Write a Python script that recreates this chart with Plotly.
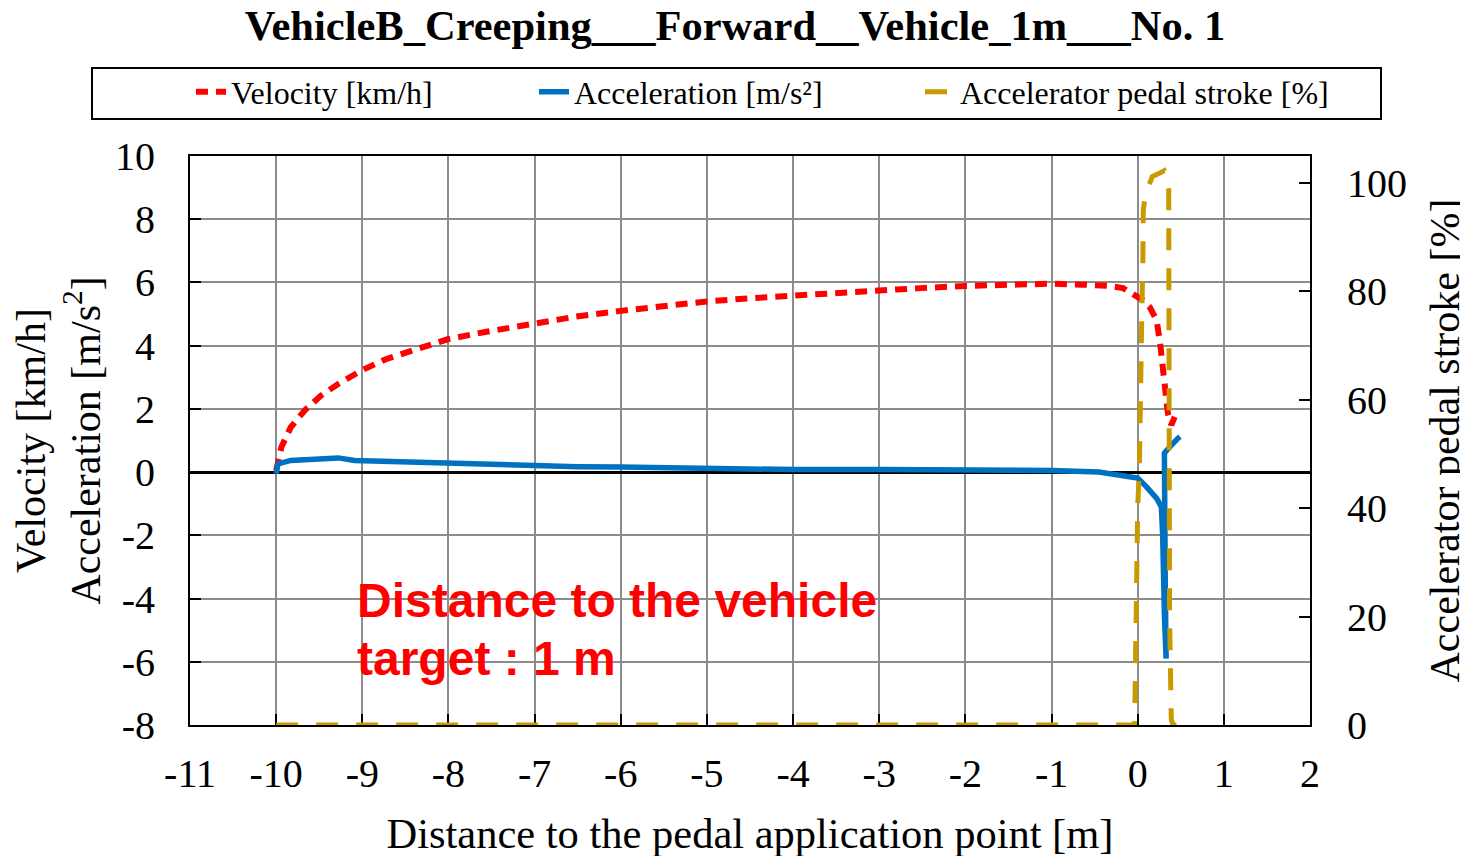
import plotly.graph_objects as go

title_text = "VehicleB_Creeping___Forward__Vehicle_1m___No. 1"

# Velocity [km/h]
vel_x = [-10.0, -9.94, -9.83, -9.67, -9.48, -9.28, -9.0, -8.72, -8.37, -8.0, -7.56, -7.0,
         -6.52, -6.0, -5.44, -5.0, -4.5, -4.0, -3.54, -3.0, -2.53, -2.0, -1.49, -1.0,
         -0.64, -0.33, -0.17, -0.06, 0.06, 0.14, 0.22, 0.26, 0.29, 0.31, 0.35, 0.39, 0.43]
vel_y = [0.05, 0.79, 1.42, 1.95, 2.42, 2.79, 3.23, 3.58, 3.89, 4.21, 4.44, 4.72,
         4.92, 5.1, 5.28, 5.4, 5.5, 5.59, 5.66, 5.75, 5.82, 5.89, 5.93, 5.96,
         5.93, 5.89, 5.82, 5.64, 5.44, 5.22, 4.8, 4.08, 3.33, 2.6, 1.87, 1.49, 1.75]

# Acceleration [m/s2]
acc_x = [-10.0, -9.98, -9.83, -9.67, -9.4, -9.28, -9.09, -8.7, -8.37, -8.0, -7.56, -7.0,
         -6.5, -6.0, -5.0, -4.0, -3.0, -2.0, -1.0, -0.45, -0.2, 0.0, 0.1, 0.22, 0.275,
         0.29, 0.31, 0.325, 0.33, 0.32, 0.305, 0.31, 0.34, 0.37, 0.42, 0.46, 0.49]
acc_y = [-0.05, 0.26, 0.37, 0.40, 0.47, 0.45, 0.37, 0.34, 0.29, 0.26, 0.21, 0.18,
         0.17, 0.16, 0.11, 0.08, 0.08, 0.07, 0.05, 0.0, -0.1, -0.19, -0.46, -0.83, -1.1,
         -2.0, -4.5, -5.8, -5.9, -3.5, 0.3, 0.6, 0.7, 0.8, 0.95, 1.05, 1.12]

# Accelerator pedal stroke [%]
ped_x = [-10.0, -0.04, -0.035, -0.03, -0.02, -0.015, 0.0, 0.02, 0.03, 0.04, 0.05, 0.06,
         0.065, 0.09, 0.115, 0.17, 0.25, 0.31, 0.35, 0.36, 0.365, 0.37, 0.39, 0.41, 0.45]
ped_y = [0, 0, 0.4, 8, 17, 23, 40, 48, 63, 72, 78, 85,
         95, 98, 99.1, 101.2, 101.8, 102.3, 101, 99, 60, 20, 1, 0, 0]

x_ticks = list(range(-11, 3))
y_ticks = list(range(-8, 11, 2))
y2_ticks = list(range(0, 101, 20))

SERIF = "Liberation Serif"
SANS = "Liberation Sans"

# plot area in figure pixels (page body adds an 8px offset)
PL, PR, PT, PB = 182, 1302, 148, 717
PW, PH = PR - PL, PB - PT


def px_x(p):
    return (p - PL) / PW


def px_y(p):
    return (PB - p) / PH


fig = go.Figure()
fig.add_trace(go.Scatter(
    x=vel_x, y=vel_y, mode="lines", name="Velocity [km/h]",
    line=dict(color="#FF0000", width=6, dash="12px,8px"), legend="legend"))
fig.add_trace(go.Scatter(
    x=acc_x, y=acc_y, mode="lines", name="Acceleration [m/s²]",
    line=dict(color="#0070C0", width=5.5), legend="legend2"))
fig.add_trace(go.Scatter(
    x=ped_x, y=ped_y, mode="lines", name="Accelerator pedal stroke [%]",
    line=dict(color="#C99A00", width=5, dash="22px,18px"), yaxis="y2", legend="legend3"))

axis_common = dict(
    showline=True, linecolor="black", linewidth=2,
    ticks="inside", ticklen=11, tickwidth=2, tickcolor="black",
    tickfont=dict(family=SERIF, size=40, color="black"),
)

leg_y = px_y(84)
leg_font = dict(family=SERIF, size=32, color="black")

fig.update_layout(
    width=1468, height=856,
    margin=dict(l=PL, r=1468 - PR, t=PT, b=856 - PB, pad=0, autoexpand=False),
    paper_bgcolor="white", plot_bgcolor="white",
    font=dict(family=SERIF, color="black"),
    showlegend=True,
    title=dict(text=title_text, x=(735 - 8) / 1468, xref="container", xanchor="center",
               y=1 - 17 / 856, yref="container", yanchor="middle",
               font=dict(family=SERIF, size=42.5, color="black", weight="bold")),
    xaxis=dict(
        range=[-11, 2], tickvals=x_ticks, ticktext=[str(v) for v in x_ticks],
        showgrid=True, gridcolor="#8C8C8C", gridwidth=2, zeroline=False,
        mirror=True, layer="below traces", ticklabelstandoff=12,
        title=dict(text="Distance to the pedal application point [m]",
                   font=dict(family=SERIF, size=42.5, color="black"), standoff=23),
        **axis_common),
    yaxis=dict(
        range=[-8, 10], tickvals=y_ticks, ticktext=[str(v) for v in y_ticks],
        showgrid=True, gridcolor="#8C8C8C", gridwidth=2,
        zeroline=True, zerolinecolor="black", zerolinewidth=3,
        ticklabelstandoff=25,
        title=dict(text="Velocity [km/h]<br>Acceleration [m/s<sup>2</sup>]",
                   font=dict(family=SERIF, size=42, color="black"), standoff=13),
        **axis_common),
    yaxis2=dict(
        range=[0, 105], tickvals=y2_ticks, ticktext=[str(v) for v in y2_ticks],
        overlaying="y", side="right", showgrid=False, zeroline=False,
        ticklabelstandoff=27,
        title=dict(text="Accelerator pedal stroke [%]",
                   font=dict(family=SERIF, size=42, color="black"), standoff=24),
        **axis_common),
    legend=dict(orientation="h", x=px_x(183), xanchor="left", y=leg_y,
                yanchor="middle", bgcolor="rgba(0,0,0,0)", font=leg_font),
    legend2=dict(orientation="h", x=px_x(526), xanchor="left", y=leg_y,
                 yanchor="middle", bgcolor="rgba(0,0,0,0)", font=leg_font),
    legend3=dict(orientation="h", x=px_x(912), xanchor="left", y=leg_y,
                 yanchor="middle", bgcolor="rgba(0,0,0,0)", font=leg_font),
    shapes=[dict(type="rect", xref="paper", yref="paper",
                 x0=px_x(84), x1=px_x(1373), y0=px_y(111), y1=px_y(60),
                 line=dict(color="black", width=2), fillcolor="rgba(0,0,0,0)")],
    annotations=[
        dict(text="Distance to the vehicle", x=-9.09, y=-4.05, xref="x", yref="y",
             xanchor="left", yanchor="middle", showarrow=False,
             font=dict(family=SANS, size=48, color="#FF0000", weight="bold")),
        dict(text="target : 1 m", x=-9.09, y=-5.89, xref="x", yref="y",
             xanchor="left", yanchor="middle", showarrow=False,
             font=dict(family=SANS, size=48, color="#FF0000", weight="bold")),
    ],
)

fig.write_html("out.html")
